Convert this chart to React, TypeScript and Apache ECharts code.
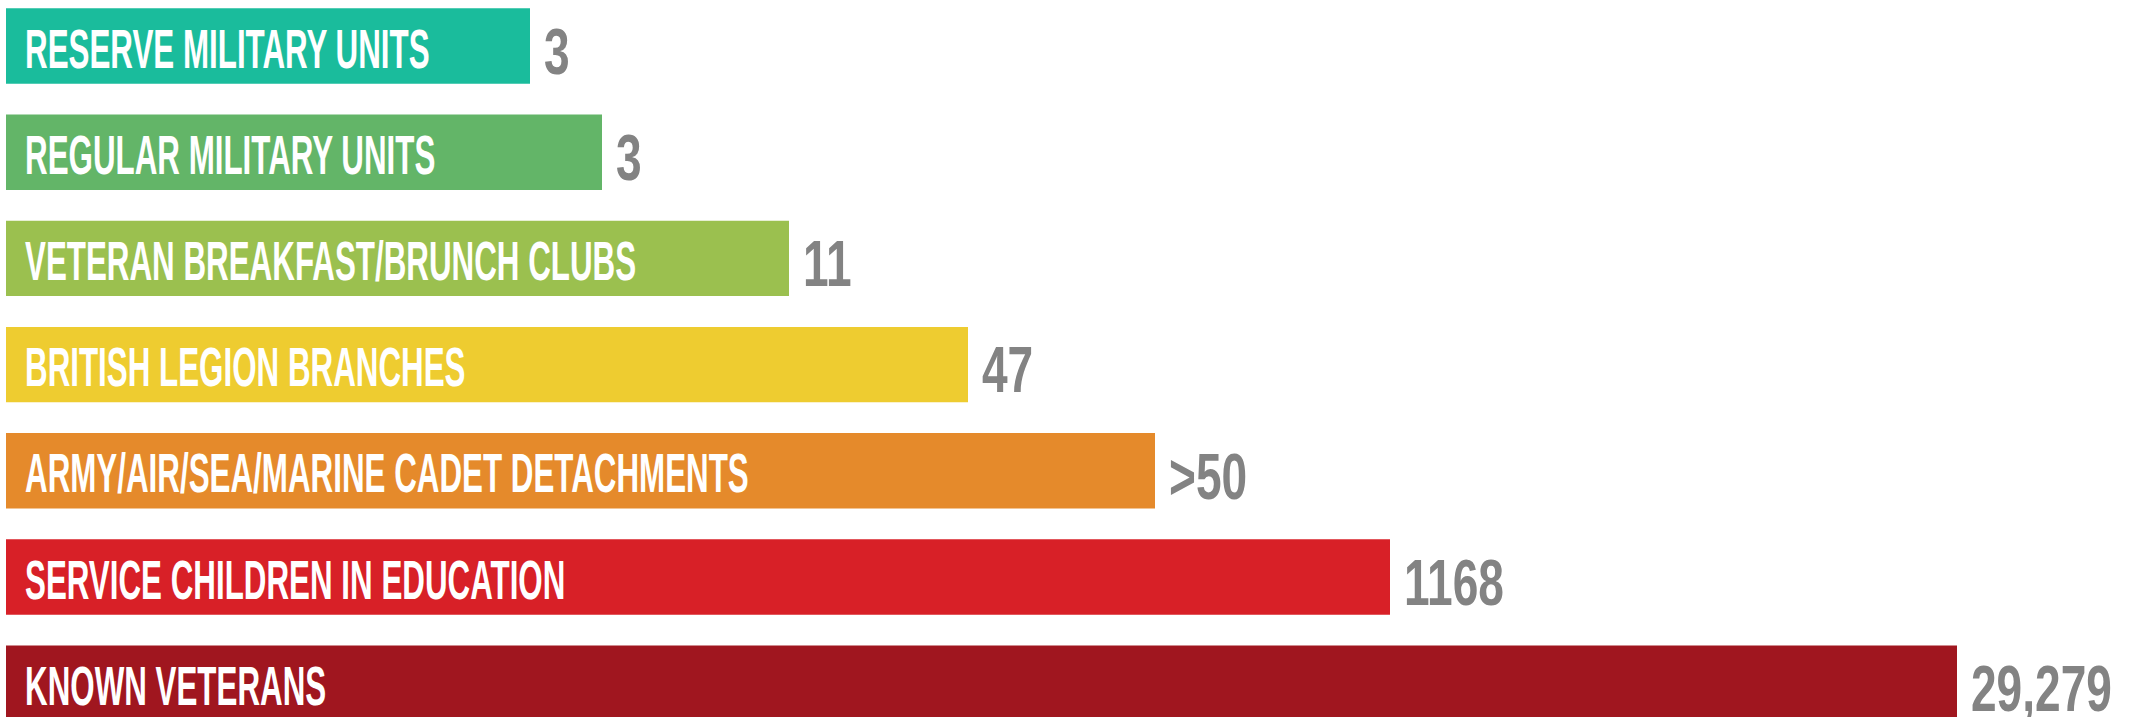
import React, { useEffect, useRef } from "react";
import * as echarts from "echarts";

const categories = [
  "RESERVE MILITARY UNITS",
  "REGULAR MILITARY UNITS",
  "VETERAN BREAKFAST/BRUNCH CLUBS",
  "BRITISH LEGION BRANCHES",
  "ARMY/AIR/SEA/MARINE CADET DETACHMENTS",
  "SERVICE CHILDREN IN EDUCATION",
  "KNOWN VETERANS",
];
const valueLabels = ["3", "3", "11", "47", ">50", "1168", "29,279"];
// Visual bar lengths (infographic is not to scale)
const barLengths = [524, 596, 783, 962, 1149, 1384, 1951];
const colors = ["#1ABC9C", "#63B568", "#9BC04F", "#EECC30", "#E58A2B", "#D82027", "#A0161F"];

export default function App() {
  const ref = useRef<HTMLDivElement>(null);
  useEffect(() => {
    if (!ref.current) return;
    const chart = echarts.init(ref.current, undefined, { renderer: "svg" });
    const band = 106.2;
    chart.setOption({
      animation: false,
      grid: {
        left: 6,
        top: 46 - band / 2,
        width: 2135,
        height: band * 7,
        outerBoundsMode: "none",
        containLabel: false,
      },
      xAxis: { type: "value", min: 0, max: 2135, show: false },
      yAxis: { type: "category", data: categories, inverse: true, show: false },
      series: [
        {
          type: "custom",
          clip: false,
          data: barLengths.map((v, i) => [v, i]),
          renderItem: (params: any, api: any) => {
            const i = params.dataIndex;
            const len = api.value(0);
            const cat = api.value(1);
            const s = api.coord([0, cat]);
            const e = api.coord([len, cat]);
            const bh = api.size([0, 1])[1] * 0.71;
            return {
              type: "group",
              children: [
                {
                  type: "rect",
                  shape: { x: s[0], y: s[1] - bh / 2, width: e[0] - s[0], height: bh },
                  style: { fill: colors[i] },
                },
                {
                  type: "text",
                  x: s[0] + 19,
                  y: s[1] + 2,
                  scaleX: 0.57,
                  style: {
                    text: categories[i],
                    fill: "#ffffff",
                    font: "bold 55px 'Liberation Sans', Arial, sans-serif",
                    lineHeight: 44,
                    align: "left",
                    verticalAlign: "middle",
                  },
                },
                {
                  type: "text",
                  x: e[0] + 14,
                  y: s[1] + 6,
                  scaleX: 0.72,
                  style: {
                    text: valueLabels[i],
                    fill: "#838383",
                    font: "bold 64px 'Liberation Sans', Arial, sans-serif",
                    lineHeight: 48,
                    align: "left",
                    verticalAlign: "middle",
                  },
                },
              ],
            };
          },
        },
      ],
    });
    return () => chart.dispose();
  }, []);
  return (
    <div
      ref={ref}
      style={{ position: "fixed", left: 0, top: 0, width: 2141, height: 717, background: "#fff" }}
    />
  );
}
